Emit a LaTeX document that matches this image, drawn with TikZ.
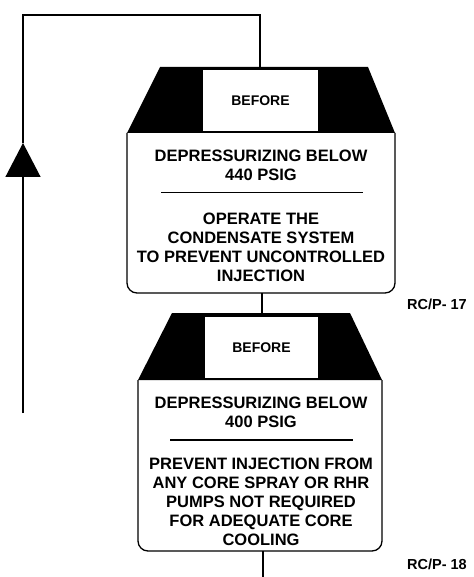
\documentclass[tikz,border=0pt]{standalone}
\usepackage{fontspec}
\setmainfont{Liberation Sans}
\usetikzlibrary{arrows.meta}
\usetikzlibrary{positioning}

\tikzset{
  flow/.style={line width=1.3pt},
  bodytext/.style={align=center, inner sep=0pt, font=\bfseries\fontsize{16.5}{19}\selectfont},
  hdrbox/.style={fill=white, draw=none, minimum width=115pt, minimum height=61pt, inner sep=0pt, font=\bfseries\fontsize{14}{16}\selectfont},
  tag/.style={inner sep=0pt, font=\bfseries\fontsize{14.5}{16}\selectfont}
}

\begin{document}
\begin{tikzpicture}[x=1pt,y=-1pt]
            \useasboundingbox (0,0) rectangle (473,577);
            % RC/P-17 box
            \fill (160,67) -- (368,67) -- (395,133) -- (127,133) -- cycle;
            \draw[flow, rounded corners=10pt] (127,133) -- (127,293) -- (395,293) -- (395,133);
            \node[hdrbox] (hdrA) at (260.5,100.5) {BEFORE};
            \node[bodytext] (condA) at (261,165) {DEPRESSURIZING BELOW\\440 PSIG};
            \node[bodytext] (actA) at (261,247) {OPERATE THE\\CONDENSATE SYSTEM\\TO PREVENT UNCONTROLLED\\INJECTION};
            \draw[line width=1pt] (161,193) -- (363,193);
            \node[tag] (tagA) at (437,304) {RC/P- 17};

            % RC/P-18 box
            \fill (172,313) -- (350,313) -- (382,380) -- (138,380) -- cycle;
            \draw[flow, rounded corners=10pt] (138,380) -- (138,551) -- (382,551) -- (382,380);
            \node[hdrbox, minimum width=113pt] (hdrB) at (261.5,347.5) {BEFORE};
            \node[bodytext] (condB) at (261,412) {DEPRESSURIZING BELOW\\400 PSIG};
            \node[bodytext] (actB) at (261,502) {PREVENT INJECTION FROM\\ANY CORE SPRAY OR RHR\\PUMPS NOT REQUIRED\\FOR ADEQUATE CORE\\COOLING};
            \draw[line width=1.8pt] (170,440) -- (353,440);
            \node[tag] (tagB) at (437,564) {RC/P- 18};

            \coordinate (topA) at (260,67);
            \coordinate (botA) at (262,293);
            \coordinate (topB) at (262,313);
            \coordinate (botB) at (263,551);
            \coordinate (exitB) at (263,577);
            \coordinate (loopEnd) at (23,413);
            \coordinate (loopTip) at (23,143);
            \coordinate (loopTop) at (260,15);

            \draw[flow, -{Triangle[width=35pt,length=34pt]}] (loopEnd) -- (loopTip);
            \draw[flow] (loopTip) |- (loopTop) -- (topA);
            \draw[flow] (botA) -- (topB);
            \draw[flow] (botB) -- (exitB);
        \end{tikzpicture}
\end{document}
